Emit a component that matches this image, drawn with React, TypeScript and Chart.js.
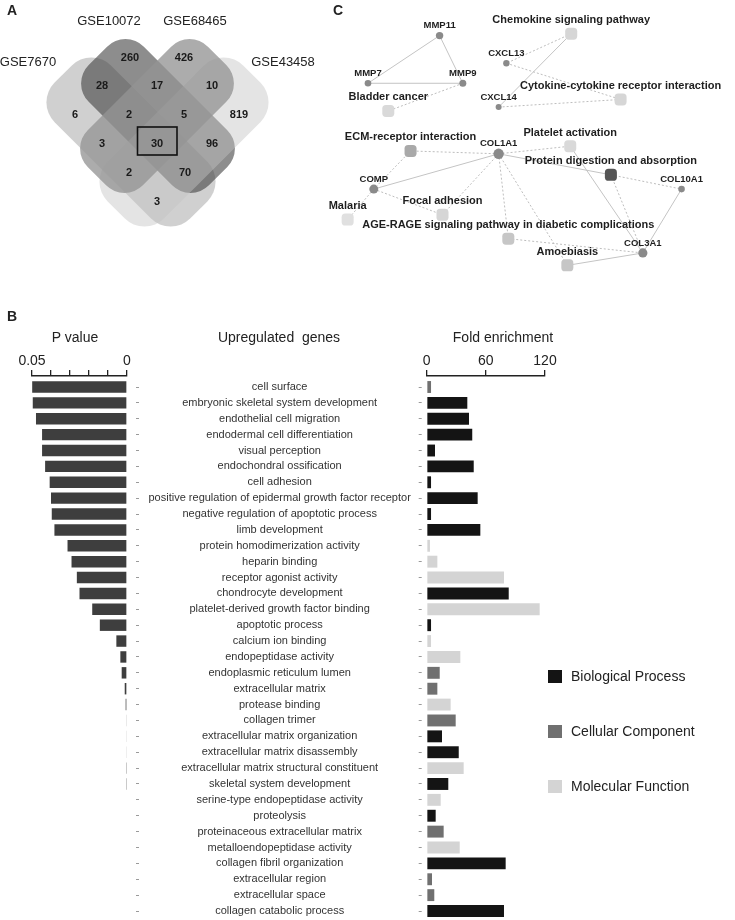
import React, { useEffect, useRef } from "react";
import { Chart, registerables } from "chart.js";

Chart.register(...registerables);

const FONT = "'Liberation Sans', Arial, Helvetica, sans-serif";
const INK = "#222222";

// ================= Panel B data =================
const categories = [
  "cell surface",
  "embryonic skeletal system development",
  "endothelial cell migration",
  "endodermal cell differentiation",
  "visual perception",
  "endochondral ossification",
  "cell adhesion",
  "positive regulation of epidermal growth factor receptor",
  "negative regulation of apoptotic process",
  "limb development",
  "protein homodimerization activity",
  "heparin binding",
  "receptor agonist activity",
  "chondrocyte development",
  "platelet-derived growth factor binding",
  "apoptotic process",
  "calcium ion binding",
  "endopeptidase activity",
  "endoplasmic reticulum lumen",
  "extracellular matrix",
  "protease binding",
  "collagen trimer",
  "extracellular matrix organization",
  "extracellular matrix disassembly",
  "extracellular matrix structural constituent",
  "skeletal system development",
  "serine-type endopeptidase activity",
  "proteolysis",
  "proteinaceous extracellular matrix",
  "metalloendopeptidase activity",
  "collagen fibril organization",
  "extracellular region",
  "extracellular space",
  "collagen catabolic process",
];

const pValues = [
  0.0499, 0.0496, 0.0479, 0.0447, 0.0447, 0.0431, 0.0407, 0.04, 0.0396, 0.0382,
  0.0313, 0.0292, 0.0264, 0.025, 0.0183, 0.0143, 0.0056, 0.0035, 0.0028, 0.0012,
  0.0007, 0.0004, 0.0003, 0.0003, 0.0002, 0.0002, 0, 0, 0, 0, 0, 0, 0, 0,
];

const foldValues = [
  4.4, 41.2, 42.9, 46.2, 8.4, 47.7, 4.4, 51.7, 4.4, 54.4,
  3.3, 10.8, 78.4, 83.2, 114.6, 4.4, 4.4, 34.1, 13.2, 10.8,
  24.3, 29.4, 15.5, 32.5, 37.5, 21.9, 14.2, 9.1, 17.2, 33.5,
  80.1, 5.4, 7.7, 78.4,
];

const goTypes = [
  "CC", "BP", "BP", "BP", "BP", "BP", "BP", "BP", "BP", "BP",
  "MF", "MF", "MF", "BP", "MF", "BP", "MF", "MF", "CC", "CC",
  "MF", "CC", "BP", "BP", "MF", "BP", "MF", "BP", "CC", "MF",
  "BP", "CC", "CC", "BP",
];

const goTypeKeys = ["BP", "CC", "MF"];
const goTypeNames = ["Biological Process", "Cellular Component", "Molecular Function"];
const goTypeColors = ["#141414", "#707070", "#d4d4d4"];

const pLabelledTicks = [0.05, 0];
const pTickStep = 0.01;
const foldTickStep = 60;

// ================= Panel A data =================
const vennSetNames = ["GSE7670", "GSE10072", "GSE68465", "GSE43458"];
const vennRegionCounts = [260, 426, 28, 17, 10, 6, 2, 5, 819, 3, 30, 96, 2, 70, 3];
const vennHighlightIndex = 10;

// layout (panel A)
const vennRegionPos = [
  [130, 57], [184, 57], [102, 85], [157, 85], [212, 85],
  [75, 114], [129, 114], [184, 114], [239, 114],
  [102, 143], [157, 143], [212, 143],
  [129, 172], [185, 172], [157, 201],
];
const vennSetLabelPos = [[28, 62], [109, 21], [195, 21], [283, 62]];
const vennShapes = [
  { set: 0, cx: 131, cy: 142, angle: 45, a: 96, b: 40, r: 28, fill: "rgba(161,161,161,0.5)" },
  { set: 1, cx: 158, cy: 116, angle: 45, a: 85, b: 39, r: 26, fill: "rgba(65,65,65,0.6)" },
  { set: 3, cx: 184, cy: 142, angle: -45, a: 96, b: 40, r: 28, fill: "rgba(196,196,196,0.45)" },
  { set: 2, cx: 157, cy: 116, angle: -45, a: 85, b: 39, r: 26, fill: "rgba(149,149,149,0.78)" },
];

// ================= Panel C data =================
const geneNames = ["MMP11", "MMP7", "MMP9", "CXCL13", "CXCL14", "COL1A1", "COMP", "COL10A1", "COL3A1"];
const pathwayNames = [
  "Chemokine signaling pathway",
  "Cytokine-cytokine receptor interaction",
  "Bladder cancer",
  "ECM-receptor interaction",
  "Platelet activation",
  "Protein digestion and absorption",
  "Focal adhesion",
  "Malaria",
  "AGE-RAGE signaling pathway in diabetic complications",
  "Amoebiasis",
];
const pathwayShades = ["#d6d6d6", "#d6d6d6", "#d9d9d9", "#a9a9a9", "#d9d9d9", "#555555", "#d6d6d6", "#e0e0e0", "#c6c6c6", "#c6c6c6"];
const edges = [
  ["MMP11", "MMP7", "s"], ["MMP11", "MMP9", "s"], ["MMP7", "MMP9", "s"], ["MMP9", "Bladder cancer", "d"],
  ["Chemokine signaling pathway", "CXCL13", "d"], ["Chemokine signaling pathway", "CXCL14", "s"],
  ["CXCL13", "Cytokine-cytokine receptor interaction", "d"], ["CXCL14", "Cytokine-cytokine receptor interaction", "d"],
  ["COL1A1", "ECM-receptor interaction", "d"], ["COL1A1", "Platelet activation", "d"],
  ["COL1A1", "Protein digestion and absorption", "s"], ["COL1A1", "COMP", "s"],
  ["COL1A1", "Focal adhesion", "d"], ["COL1A1", "AGE-RAGE signaling pathway in diabetic complications", "d"],
  ["COL1A1", "Amoebiasis", "d"], ["ECM-receptor interaction", "COMP", "d"], ["COMP", "Malaria", "d"],
  ["COMP", "Focal adhesion", "d"], ["Platelet activation", "COL3A1", "s"],
  ["Protein digestion and absorption", "COL10A1", "d"], ["Protein digestion and absorption", "COL3A1", "d"],
  ["COL10A1", "COL3A1", "s"], ["AGE-RAGE signaling pathway in diabetic complications", "COL3A1", "d"],
  ["Amoebiasis", "COL3A1", "s"],
];

// layout (panel C)
const geneLayout = [[437, 30], [363, 80], [461, 80], [506, 59], [498, 105], [498, 154], [369, 191], [687, 191], [647, 258]];
const geneRadius = [3.7, 3.3, 3.5, 3.2, 3, 5.2, 4.5, 3.3, 4.6];
const pathwayLayout = [[573, 28], [624, 97], [384, 109], [407, 151], [572, 146], [614, 176], [440, 218], [342, 223], [508, 243], [569, 271]];

// ================= helpers =================
const rowMin = -0.693;
const rowMax = 33.503;
const rowTicks = (scale: any) => {
  scale.ticks = categories.map((_, i) => ({ value: i }));
};

function pValueConfig(): any {
  return {
    type: "bar",
    data: {
      datasets: [
        {
          data: pValues.map((v, i) => ({ x: v, y: i })),
          backgroundColor: "#3e3e3e",
          borderWidth: 0,
          barPercentage: 0.72,
          categoryPercentage: 1,
          clip: false,
        },
      ],
    },
    options: {
      indexAxis: "y",
      responsive: false,
      animation: false,
      devicePixelRatio: 1,
      events: [],
      layout: { padding: { left: 32, right: 0, top: 0, bottom: 1 } },
      plugins: { legend: { display: false }, tooltip: { enabled: false } },
      scales: {
        x: {
          type: "linear",
          position: "top",
          reverse: true,
          min: 0,
          max: 0.05,
          afterFit: (s: any) => {
            s.height = 76;
          },
          ticks: {
            stepSize: pTickStep,
            padding: 0,
            maxRotation: 0,
            autoSkip: false,
            font: { family: FONT, size: 14 },
            color: INK,
            callback: (v: number) => {
              const t = pLabelledTicks.find((p) => Math.abs(p - v) < 1e-9);
              return t === undefined ? "" : String(t);
            },
          },
          grid: { drawOnChartArea: false, drawTicks: true, tickLength: 6, color: INK, lineWidth: 1.3 },
          border: { display: true, color: INK, width: 1.6 },
        },
        y: {
          type: "linear",
          position: "right",
          reverse: true,
          min: rowMin,
          max: rowMax,
          offset: false,
          afterBuildTicks: rowTicks,
          afterFit: (s: any) => {
            s.width = 293;
            s.paddingTop = 0;
            s.paddingBottom = 0;
          },
          ticks: {
            autoSkip: false,
            crossAlign: "center",
            padding: 9.5,
            font: { family: FONT, size: 11 },
            color: "#333333",
            callback: (v: number) => categories[v] ?? "",
          },
          grid: {
            offset: false,
            drawOnChartArea: false,
            drawTicks: true,
            tickLength: 12,
            tickColor: "#9a9a9a",
            tickWidth: 1,
            tickBorderDash: [0, 9, 3, 100],
          },
          border: { display: false },
        },
      },
    },
  };
}

function foldConfig(): any {
  return {
    type: "bar",
    data: {
      datasets: [
        {
          data: foldValues.map((v, i) => ({ x: v, y: i })),
          backgroundColor: goTypes.map((t) => goTypeColors[goTypeKeys.indexOf(t)]),
          borderWidth: 0,
          barPercentage: 0.75,
          categoryPercentage: 1,
          clip: false,
        },
      ],
    },
    options: {
      indexAxis: "y",
      responsive: false,
      animation: false,
      devicePixelRatio: 1,
      events: [],
      layout: { padding: { left: 0, right: 190, top: 0, bottom: 1 } },
      plugins: { legend: { display: false }, tooltip: { enabled: false } },
      scales: {
        x: {
          type: "linear",
          position: "top",
          min: 0,
          max: 120,
          afterFit: (s: any) => {
            s.height = 76;
          },
          ticks: {
            stepSize: foldTickStep,
            padding: 0,
            maxRotation: 0,
            font: { family: FONT, size: 14 },
            color: INK,
          },
          grid: { drawOnChartArea: false, drawTicks: true, tickLength: 6, color: INK, lineWidth: 1.3 },
          border: { display: true, color: INK, width: 1.6 },
        },
        y: {
          type: "linear",
          position: "left",
          reverse: true,
          min: rowMin,
          max: rowMax,
          offset: false,
          afterBuildTicks: rowTicks,
          afterFit: (s: any) => {
            s.width = 56.7;
            s.paddingTop = 0;
            s.paddingBottom = 0;
          },
          ticks: { display: false, autoSkip: false },
          grid: {
            offset: false,
            drawOnChartArea: false,
            drawTicks: true,
            tickLength: 8,
            tickColor: "#9a9a9a",
            tickWidth: 1,
            tickBorderDash: [3, 100],
          },
          border: { display: false },
        },
      },
    },
  };
}

const vennPlugin = {
  id: "vennShapes",
  beforeDatasetsDraw(chart: any) {
    const { ctx } = chart;
    const xs = chart.scales.x;
    const ys = chart.scales.y;
    const k = Math.abs(xs.getPixelForValue(1) - xs.getPixelForValue(0));
    vennShapes.forEach((s) => {
      ctx.save();
      ctx.translate(xs.getPixelForValue(s.cx), ys.getPixelForValue(s.cy));
      ctx.rotate((s.angle * Math.PI) / 180);
      ctx.beginPath();
      ctx.roundRect(-s.a * k, -s.b * k, 2 * s.a * k, 2 * s.b * k, s.r * k);
      ctx.fillStyle = s.fill;
      ctx.fill();
      ctx.restore();
    });
  },
  afterDatasetsDraw(chart: any) {
    const { ctx } = chart;
    const xs = chart.scales.x;
    const ys = chart.scales.y;
    const k = Math.abs(xs.getPixelForValue(1) - xs.getPixelForValue(0));
    const meta = chart.getDatasetMeta(0);
    ctx.save();
    ctx.font = `bold 11px ${FONT}`;
    ctx.fillStyle = "#1a1a1a";
    ctx.textAlign = "center";
    ctx.textBaseline = "middle";
    meta.data.forEach((pt: any, i: number) => {
      ctx.fillText(String(vennRegionCounts[i]), pt.x, pt.y + 0.5);
    });
    const hp = meta.data[vennHighlightIndex];
    ctx.strokeStyle = "#111111";
    ctx.lineWidth = 1.6;
    ctx.strokeRect(hp.x - 19.5 * k, hp.y - 16 * k, 39.5 * k, 28 * k);
    ctx.font = `13px ${FONT}`;
    ctx.fillStyle = INK;
    vennSetNames.forEach((name, i) => {
      const [lx, ly] = vennSetLabelPos[i];
      ctx.fillText(name, xs.getPixelForValue(lx), ys.getPixelForValue(ly));
    });
    ctx.restore();
  },
};

function vennConfig(): any {
  return {
    type: "scatter",
    data: {
      datasets: [
        {
          data: vennRegionPos.map(([x, y]) => ({ x, y })),
          pointRadius: 0,
          pointHoverRadius: 0,
        },
      ],
    },
    options: {
      responsive: false,
      animation: false,
      devicePixelRatio: 1,
      events: [],
      layout: { padding: 0 },
      plugins: { legend: { display: false }, tooltip: { enabled: false } },
      scales: {
        x: { type: "linear", min: 0, max: 330, display: false },
        y: { type: "linear", min: 0, max: 250, reverse: true, display: false },
      },
    },
    plugins: [vennPlugin],
  };
}

const networkLabelPlugin = {
  id: "networkLabels",
  afterDatasetsDraw(chart: any) {
    const { ctx } = chart;
    const genes = chart.getDatasetMeta(0).data;
    const paths = chart.getDatasetMeta(1).data;
    ctx.save();
    ctx.textAlign = "center";
    ctx.textBaseline = "middle";
    ctx.fillStyle = "#1e1e1e";
    ctx.font = `bold 9.5px ${FONT}`;
    genes.forEach((pt: any, i: number) => ctx.fillText(geneNames[i], pt.x, pt.y - 10));
    ctx.font = `bold 11px ${FONT}`;
    paths.forEach((pt: any, i: number) => ctx.fillText(pathwayNames[i], pt.x, pt.y - 13.5));
    ctx.restore();
  },
};

function networkConfig(): any {
  const posOf = (name: string) => {
    const gi = geneNames.indexOf(name);
    const [x, y] = gi >= 0 ? geneLayout[gi] : pathwayLayout[pathwayNames.indexOf(name)];
    return { x, y };
  };
  const edgeSets = edges.map(([a, b, style]) => ({
    data: [posOf(a), posOf(b)],
    showLine: true,
    borderColor: style === "s" ? "#c4c4c4" : "#bdbdbd",
    borderWidth: 1,
    borderDash: style === "s" ? [] : [2, 2],
    pointRadius: 0,
    pointHoverRadius: 0,
    fill: false,
    clip: false,
  }));
  return {
    type: "scatter",
    data: {
      datasets: [
        {
          data: geneLayout.map(([x, y]) => ({ x, y })),
          pointStyle: "circle",
          pointRadius: geneRadius,
          pointBackgroundColor: "#8a8a8a",
          pointBorderWidth: 0,
          clip: false,
        },
        {
          data: pathwayLayout.map(([x, y]) => ({ x, y })),
          pointStyle: "rectRounded",
          pointRadius: 7,
          pointBackgroundColor: pathwayShades,
          pointBorderWidth: 0,
          clip: false,
        },
        ...edgeSets,
      ],
    },
    options: {
      responsive: false,
      animation: false,
      devicePixelRatio: 1,
      events: [],
      layout: { padding: 0 },
      plugins: { legend: { display: false }, tooltip: { enabled: false } },
      scales: {
        x: { type: "linear", min: 300, max: 735, display: false },
        y: { type: "linear", min: 0, max: 300, reverse: true, display: false },
      },
    },
    plugins: [networkLabelPlugin],
  };
}

function ChartBox({ left, top, width, height, make }: any) {
  const ref = useRef<HTMLCanvasElement>(null);
  useEffect(() => {
    const chart = new Chart(ref.current as HTMLCanvasElement, make());
    return () => chart.destroy();
  }, []);
  return (
    <div style={{ position: "absolute", left, top, width, height }}>
      <canvas ref={ref} width={width} height={height} style={{ width, height, display: "block" }} />
    </div>
  );
}

function Label({ x, y, text, size = 14, bold = false, align = "center", color = INK }: any) {
  const h = Math.round(size * 1.6);
  const style: any = {
    position: "absolute",
    top: y - h / 2,
    height: h,
    lineHeight: `${h}px`,
    fontSize: size,
    fontWeight: bold ? 700 : 400,
    color,
    whiteSpace: "pre",
    fontFamily: FONT,
  };
  if (align === "center") {
    style.left = x - 200;
    style.width = 400;
    style.textAlign = "center";
  } else {
    style.left = x;
  }
  return <div style={style}>{text}</div>;
}

export default function App() {
  return (
    <div
      style={{
        position: "absolute",
        left: 0,
        top: 0,
        width: 735,
        height: 920,
        background: "#ffffff",
        overflow: "hidden",
        fontFamily: FONT,
      }}
    >
      <ChartBox left={0} top={0} width={330} height={250} make={vennConfig} />
      <ChartBox left={300} top={0} width={435} height={300} make={networkConfig} />
      <ChartBox left={0} top={300} width={420} height={620} make={pValueConfig} />
      <ChartBox left={370} top={300} width={365} height={620} make={foldConfig} />

      <Label x={7} y={10} text="A" size={14} bold align="left" />
      <Label x={333} y={10} text="C" size={14} bold align="left" />
      <Label x={7} y={316} text="B" size={14} bold align="left" />

      <Label x={75} y={337} text="P value" size={14} />
      <Label x={279} y={337} text="Upregulated  genes" size={14} />
      <Label x={503} y={337} text="Fold enrichment" size={14} />

      {goTypeNames.map((name, i) => (
        <React.Fragment key={name}>
          <div
            style={{
              position: "absolute",
              left: 548,
              top: 669.5 + i * 55,
              width: 14,
              height: 13,
              background: goTypeColors[i],
            }}
          />
          <Label x={571} y={676 + i * 55} text={name} size={14} align="left" />
        </React.Fragment>
      ))}
    </div>
  );
}
